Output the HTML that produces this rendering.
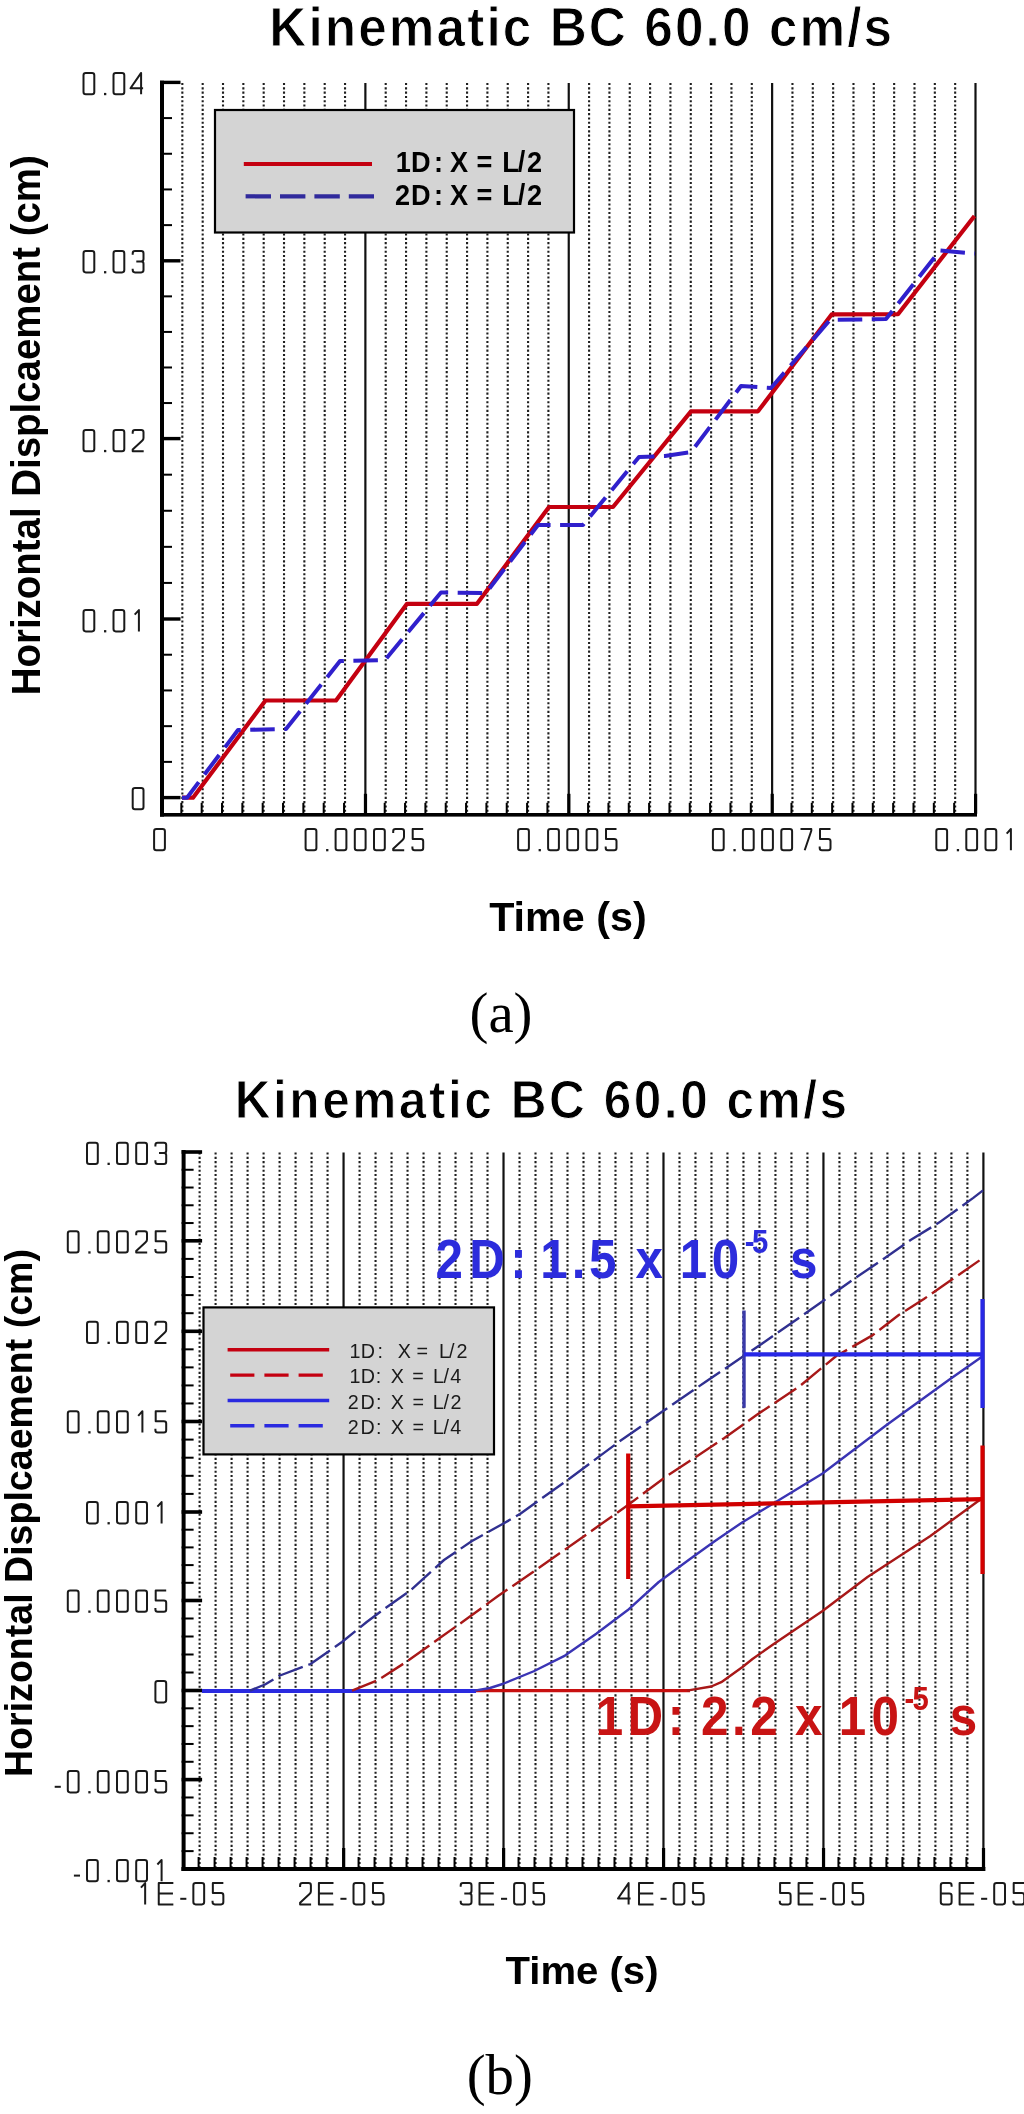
<!DOCTYPE html>
<html><head><meta charset="utf-8"><title>Kinematic BC 60.0 cm/s</title>
<style>
html,body{margin:0;padding:0;background:#fff;}
body{width:1024px;height:2114px;overflow:hidden;font-family:"Liberation Sans",sans-serif;}
svg{display:block;}
text{-webkit-font-smoothing:antialiased;}
text{white-space:pre;}
</style></head>
<body>
<svg width="1024" height="2114" viewBox="0 0 1024 2114" style="will-change:transform">
<defs><path id="g0" d="M 3.3 -22.3 H 9.5 Q 11.8 -22.3 11.8 -20 V -3.3 Q 11.8 -1 9.5 -1 H 3.3 Q 1 -1 1 -3.3 V -20 Q 1 -22.3 3.3 -22.3 Z" fill="none" stroke="#1a1a1a" stroke-width="2.0" stroke-linejoin="round" stroke-linecap="butt"/><path id="g1" d="M 7.2 -1 V -22.3 L 3 -17.7" fill="none" stroke="#1a1a1a" stroke-width="2.0" stroke-linejoin="round" stroke-linecap="butt"/><path id="g2" d="M 1 -18.4 V -20 Q 1 -22.3 3.3 -22.3 H 9.5 Q 11.8 -22.3 11.8 -20 V -14.2 Q 11.8 -12.6 10.4 -11.4 L 1 -2.6 V -1 H 12" fill="none" stroke="#1a1a1a" stroke-width="2.0" stroke-linejoin="round" stroke-linecap="butt"/><path id="g3" d="M 1 -18.6 V -20 Q 1 -22.3 3.3 -22.3 H 9.5 Q 11.8 -22.3 11.8 -20 V -14.3 Q 11.8 -12 9.5 -12 H 4.6 M 9.5 -12 Q 11.8 -12 11.8 -9.7 V -3.3 Q 11.8 -1 9.5 -1 H 3.3 Q 1 -1 1 -3.3 V -4.7" fill="none" stroke="#1a1a1a" stroke-width="2.0" stroke-linejoin="round" stroke-linecap="butt"/><path id="g4" d="M 9.4 -1 V -22.3 L -1.2 -6.9 H 11.4" fill="none" stroke="#1a1a1a" stroke-width="2.0" stroke-linejoin="round" stroke-linecap="butt"/><path id="g5" d="M 11.8 -22.3 H 1.3 V -12.3 H 9.5 Q 11.8 -12.3 11.8 -10 V -3.3 Q 11.8 -1 9.5 -1 H 3.3 Q 1 -1 1 -3.3 V -4.7" fill="none" stroke="#1a1a1a" stroke-width="2.0" stroke-linejoin="round" stroke-linecap="butt"/><path id="g6" d="M 11.8 -18.6 V -20 Q 11.8 -22.3 9.5 -22.3 H 3.3 Q 1 -22.3 1 -20 V -3.3 Q 1 -1 3.3 -1 H 9.5 Q 11.8 -1 11.8 -3.3 V -9.7 Q 11.8 -12 9.5 -12 H 1" fill="none" stroke="#1a1a1a" stroke-width="2.0" stroke-linejoin="round" stroke-linecap="butt"/><path id="g7" d="M 1 -22.3 H 11.8 V -20.5 L 5.2 -1" fill="none" stroke="#1a1a1a" stroke-width="2.0" stroke-linejoin="round" stroke-linecap="butt"/><path id="gE" d="M 15.6 -22.3 H 1 V -1 H 15.6 M 1 -11.8 H 15.2" fill="none" stroke="#1a1a1a" stroke-width="2.0" stroke-linejoin="round" stroke-linecap="butt"/><path id="gm" d="M 1 -6.6 H 7.1" fill="none" stroke="#1a1a1a" stroke-width="2.0" stroke-linejoin="round" stroke-linecap="butt"/><path id="gd" d="M 0.2 -2.3 h 2.3 v 2.3 h -2.3 Z" fill="#1a1a1a" stroke="none"/></defs>
<rect x="0" y="0" width="1024" height="2114" fill="#fff"/>
<line x1="182.34" y1="83" x2="182.34" y2="813.3" stroke="#1e1e1e" stroke-width="2.1" stroke-dasharray="2.1 2.2"/>
<rect x="180.34" y="802.8" width="2" height="10.5" fill="#000"/>
<line x1="202.68" y1="83" x2="202.68" y2="813.3" stroke="#1e1e1e" stroke-width="2.1" stroke-dasharray="2.1 2.2"/>
<rect x="200.68" y="802.8" width="2" height="10.5" fill="#000"/>
<line x1="223.01" y1="83" x2="223.01" y2="813.3" stroke="#1e1e1e" stroke-width="2.1" stroke-dasharray="2.1 2.2"/>
<rect x="221.01" y="802.8" width="2" height="10.5" fill="#000"/>
<line x1="243.35" y1="83" x2="243.35" y2="813.3" stroke="#1e1e1e" stroke-width="2.1" stroke-dasharray="2.1 2.2"/>
<rect x="241.35" y="802.8" width="2" height="10.5" fill="#000"/>
<line x1="263.69" y1="83" x2="263.69" y2="813.3" stroke="#1e1e1e" stroke-width="2.1" stroke-dasharray="2.1 2.2"/>
<rect x="261.69" y="802.8" width="2" height="10.5" fill="#000"/>
<line x1="284.02" y1="83" x2="284.02" y2="813.3" stroke="#1e1e1e" stroke-width="2.1" stroke-dasharray="2.1 2.2"/>
<rect x="282.02" y="802.8" width="2" height="10.5" fill="#000"/>
<line x1="304.36" y1="83" x2="304.36" y2="813.3" stroke="#1e1e1e" stroke-width="2.1" stroke-dasharray="2.1 2.2"/>
<rect x="302.36" y="802.8" width="2" height="10.5" fill="#000"/>
<line x1="324.7" y1="83" x2="324.7" y2="813.3" stroke="#1e1e1e" stroke-width="2.1" stroke-dasharray="2.1 2.2"/>
<rect x="322.7" y="802.8" width="2" height="10.5" fill="#000"/>
<line x1="345.04" y1="83" x2="345.04" y2="813.3" stroke="#1e1e1e" stroke-width="2.1" stroke-dasharray="2.1 2.2"/>
<rect x="343.04" y="802.8" width="2" height="10.5" fill="#000"/>
<line x1="385.71" y1="83" x2="385.71" y2="813.3" stroke="#1e1e1e" stroke-width="2.1" stroke-dasharray="2.1 2.2"/>
<rect x="383.71" y="802.8" width="2" height="10.5" fill="#000"/>
<line x1="406.05" y1="83" x2="406.05" y2="813.3" stroke="#1e1e1e" stroke-width="2.1" stroke-dasharray="2.1 2.2"/>
<rect x="404.05" y="802.8" width="2" height="10.5" fill="#000"/>
<line x1="426.39" y1="83" x2="426.39" y2="813.3" stroke="#1e1e1e" stroke-width="2.1" stroke-dasharray="2.1 2.2"/>
<rect x="424.39" y="802.8" width="2" height="10.5" fill="#000"/>
<line x1="446.73" y1="83" x2="446.73" y2="813.3" stroke="#1e1e1e" stroke-width="2.1" stroke-dasharray="2.1 2.2"/>
<rect x="444.73" y="802.8" width="2" height="10.5" fill="#000"/>
<line x1="467.06" y1="83" x2="467.06" y2="813.3" stroke="#1e1e1e" stroke-width="2.1" stroke-dasharray="2.1 2.2"/>
<rect x="465.06" y="802.8" width="2" height="10.5" fill="#000"/>
<line x1="487.4" y1="83" x2="487.4" y2="813.3" stroke="#1e1e1e" stroke-width="2.1" stroke-dasharray="2.1 2.2"/>
<rect x="485.4" y="802.8" width="2" height="10.5" fill="#000"/>
<line x1="507.74" y1="83" x2="507.74" y2="813.3" stroke="#1e1e1e" stroke-width="2.1" stroke-dasharray="2.1 2.2"/>
<rect x="505.74" y="802.8" width="2" height="10.5" fill="#000"/>
<line x1="528.08" y1="83" x2="528.08" y2="813.3" stroke="#1e1e1e" stroke-width="2.1" stroke-dasharray="2.1 2.2"/>
<rect x="526.08" y="802.8" width="2" height="10.5" fill="#000"/>
<line x1="548.41" y1="83" x2="548.41" y2="813.3" stroke="#1e1e1e" stroke-width="2.1" stroke-dasharray="2.1 2.2"/>
<rect x="546.41" y="802.8" width="2" height="10.5" fill="#000"/>
<line x1="589.09" y1="83" x2="589.09" y2="813.3" stroke="#1e1e1e" stroke-width="2.1" stroke-dasharray="2.1 2.2"/>
<rect x="587.09" y="802.8" width="2" height="10.5" fill="#000"/>
<line x1="609.42" y1="83" x2="609.42" y2="813.3" stroke="#1e1e1e" stroke-width="2.1" stroke-dasharray="2.1 2.2"/>
<rect x="607.42" y="802.8" width="2" height="10.5" fill="#000"/>
<line x1="629.76" y1="83" x2="629.76" y2="813.3" stroke="#1e1e1e" stroke-width="2.1" stroke-dasharray="2.1 2.2"/>
<rect x="627.76" y="802.8" width="2" height="10.5" fill="#000"/>
<line x1="650.1" y1="83" x2="650.1" y2="813.3" stroke="#1e1e1e" stroke-width="2.1" stroke-dasharray="2.1 2.2"/>
<rect x="648.1" y="802.8" width="2" height="10.5" fill="#000"/>
<line x1="670.44" y1="83" x2="670.44" y2="813.3" stroke="#1e1e1e" stroke-width="2.1" stroke-dasharray="2.1 2.2"/>
<rect x="668.44" y="802.8" width="2" height="10.5" fill="#000"/>
<line x1="690.77" y1="83" x2="690.77" y2="813.3" stroke="#1e1e1e" stroke-width="2.1" stroke-dasharray="2.1 2.2"/>
<rect x="688.77" y="802.8" width="2" height="10.5" fill="#000"/>
<line x1="711.11" y1="83" x2="711.11" y2="813.3" stroke="#1e1e1e" stroke-width="2.1" stroke-dasharray="2.1 2.2"/>
<rect x="709.11" y="802.8" width="2" height="10.5" fill="#000"/>
<line x1="731.45" y1="83" x2="731.45" y2="813.3" stroke="#1e1e1e" stroke-width="2.1" stroke-dasharray="2.1 2.2"/>
<rect x="729.45" y="802.8" width="2" height="10.5" fill="#000"/>
<line x1="751.79" y1="83" x2="751.79" y2="813.3" stroke="#1e1e1e" stroke-width="2.1" stroke-dasharray="2.1 2.2"/>
<rect x="749.79" y="802.8" width="2" height="10.5" fill="#000"/>
<line x1="792.46" y1="83" x2="792.46" y2="813.3" stroke="#1e1e1e" stroke-width="2.1" stroke-dasharray="2.1 2.2"/>
<rect x="790.46" y="802.8" width="2" height="10.5" fill="#000"/>
<line x1="812.8" y1="83" x2="812.8" y2="813.3" stroke="#1e1e1e" stroke-width="2.1" stroke-dasharray="2.1 2.2"/>
<rect x="810.8" y="802.8" width="2" height="10.5" fill="#000"/>
<line x1="833.14" y1="83" x2="833.14" y2="813.3" stroke="#1e1e1e" stroke-width="2.1" stroke-dasharray="2.1 2.2"/>
<rect x="831.14" y="802.8" width="2" height="10.5" fill="#000"/>
<line x1="853.48" y1="83" x2="853.48" y2="813.3" stroke="#1e1e1e" stroke-width="2.1" stroke-dasharray="2.1 2.2"/>
<rect x="851.48" y="802.8" width="2" height="10.5" fill="#000"/>
<line x1="873.81" y1="83" x2="873.81" y2="813.3" stroke="#1e1e1e" stroke-width="2.1" stroke-dasharray="2.1 2.2"/>
<rect x="871.81" y="802.8" width="2" height="10.5" fill="#000"/>
<line x1="894.15" y1="83" x2="894.15" y2="813.3" stroke="#1e1e1e" stroke-width="2.1" stroke-dasharray="2.1 2.2"/>
<rect x="892.15" y="802.8" width="2" height="10.5" fill="#000"/>
<line x1="914.49" y1="83" x2="914.49" y2="813.3" stroke="#1e1e1e" stroke-width="2.1" stroke-dasharray="2.1 2.2"/>
<rect x="912.49" y="802.8" width="2" height="10.5" fill="#000"/>
<line x1="934.83" y1="83" x2="934.83" y2="813.3" stroke="#1e1e1e" stroke-width="2.1" stroke-dasharray="2.1 2.2"/>
<rect x="932.83" y="802.8" width="2" height="10.5" fill="#000"/>
<line x1="955.16" y1="83" x2="955.16" y2="813.3" stroke="#1e1e1e" stroke-width="2.1" stroke-dasharray="2.1 2.2"/>
<rect x="953.16" y="802.8" width="2" height="10.5" fill="#000"/>
<line x1="365.38" y1="83" x2="365.38" y2="814.8" stroke="#111" stroke-width="2.2" />
<rect x="363.88" y="793.8" width="3.2" height="20" fill="#000"/>
<line x1="568.75" y1="83" x2="568.75" y2="814.8" stroke="#111" stroke-width="2.2" />
<rect x="567.25" y="793.8" width="3.2" height="20" fill="#000"/>
<line x1="772.12" y1="83" x2="772.12" y2="814.8" stroke="#111" stroke-width="2.2" />
<rect x="770.62" y="793.8" width="3.2" height="20" fill="#000"/>
<line x1="975.5" y1="83" x2="975.5" y2="814.8" stroke="#111" stroke-width="2.2" />
<rect x="974" y="793.8" width="3.2" height="20" fill="#000"/>
<rect x="160" y="795.9" width="20.5" height="3.4" fill="#000"/>
<rect x="160" y="617.3" width="20.5" height="3.4" fill="#000"/>
<rect x="160" y="436.9" width="20.5" height="3.4" fill="#000"/>
<rect x="160" y="259.1" width="20.5" height="3.4" fill="#000"/>
<rect x="160" y="80.7" width="20.5" height="3.4" fill="#000"/>
<rect x="160" y="760.88" width="12" height="2" fill="#000"/>
<rect x="160" y="725.16" width="12" height="2" fill="#000"/>
<rect x="160" y="689.44" width="12" height="2" fill="#000"/>
<rect x="160" y="653.72" width="12" height="2" fill="#000"/>
<rect x="160" y="581.92" width="12" height="2" fill="#000"/>
<rect x="160" y="545.84" width="12" height="2" fill="#000"/>
<rect x="160" y="509.76" width="12" height="2" fill="#000"/>
<rect x="160" y="473.68" width="12" height="2" fill="#000"/>
<rect x="160" y="402.04" width="12" height="2" fill="#000"/>
<rect x="160" y="366.48" width="12" height="2" fill="#000"/>
<rect x="160" y="330.92" width="12" height="2" fill="#000"/>
<rect x="160" y="295.36" width="12" height="2" fill="#000"/>
<rect x="160" y="224.12" width="12" height="2" fill="#000"/>
<rect x="160" y="188.44" width="12" height="2" fill="#000"/>
<rect x="160" y="152.76" width="12" height="2" fill="#000"/>
<rect x="160" y="117.08" width="12" height="2" fill="#000"/>
<rect x="160" y="80.7" width="4" height="735.9" fill="#000"/>
<rect x="160" y="813" width="817" height="3.6" fill="#000"/>
<use href="#g0" x="131.7" y="810.3"/>
<use href="#g0" x="82.5" y="632.4"/><use href="#gd" x="103.8" y="632.4"/><use href="#g0" x="112.5" y="632.4"/><use href="#g1" x="131.7" y="632.4"/>
<use href="#g0" x="82.5" y="452.2"/><use href="#gd" x="103.8" y="452.2"/><use href="#g0" x="112.5" y="452.2"/><use href="#g2" x="131.7" y="452.2"/>
<use href="#g0" x="82.5" y="273.4"/><use href="#gd" x="103.8" y="273.4"/><use href="#g0" x="112.5" y="273.4"/><use href="#g3" x="131.7" y="273.4"/>
<use href="#g0" x="82.5" y="95.2"/><use href="#gd" x="103.8" y="95.2"/><use href="#g0" x="112.5" y="95.2"/><use href="#g4" x="131.7" y="95.2"/>
<use href="#g0" x="153.1" y="851.3"/>
<use href="#g0" x="304.6" y="851.3"/><use href="#gd" x="325.9" y="851.3"/><use href="#g0" x="334.6" y="851.3"/><use href="#g0" x="353.8" y="851.3"/><use href="#g0" x="373" y="851.3"/><use href="#g2" x="392.2" y="851.3"/><use href="#g5" x="411.4" y="851.3"/>
<use href="#g0" x="517.1" y="851.3"/><use href="#gd" x="538.4" y="851.3"/><use href="#g0" x="547.1" y="851.3"/><use href="#g0" x="566.3" y="851.3"/><use href="#g0" x="585.5" y="851.3"/><use href="#g5" x="604.7" y="851.3"/>
<use href="#g0" x="711.9" y="851.3"/><use href="#gd" x="733.2" y="851.3"/><use href="#g0" x="741.9" y="851.3"/><use href="#g0" x="761.1" y="851.3"/><use href="#g0" x="780.3" y="851.3"/><use href="#g7" x="799.5" y="851.3"/><use href="#g5" x="818.7" y="851.3"/>
<use href="#g0" x="935.3" y="851.3"/><use href="#gd" x="956.6" y="851.3"/><use href="#g0" x="965.3" y="851.3"/><use href="#g0" x="984.5" y="851.3"/><use href="#g1" x="1003.7" y="851.3"/>
<text transform="translate(269.31,45.8) scale(0.92,1)" font-family="Liberation Sans" font-weight="bold" font-size="55.8" letter-spacing="2.26" stroke="#fff" stroke-width="1.0">Kinematic BC 60.0 cm/s</text>
<text transform="translate(40,425.2) rotate(-90)" x="0" y="0" font-family="Liberation Sans" font-size="40.4" font-weight="bold" text-anchor="middle" textLength="540" lengthAdjust="spacingAndGlyphs">Horizontal Displcaement (cm)</text>
<text x="567.9" y="931.3" font-family="Liberation Sans" font-size="39.8" font-weight="bold" text-anchor="middle" fill="#000" textLength="157.5" lengthAdjust="spacingAndGlyphs">Time (s)</text>
<text x="501" y="1032.3" font-family="Liberation Serif" font-size="56.8" font-weight="normal" text-anchor="middle" fill="#000" >(a)</text>
<polyline points="182,797.7 193,797.7 265.5,700.5 336,700.5 407,603.8 477,603.8 549,507 613,507 691,411.3 758,411.3 831.6,314.4 898,314.2 974.5,216" fill="none" stroke="#c40010" stroke-width="4.2" stroke-linejoin="round" />
<polyline points="182,797.7 187,797.7 238,730 286,729 340,661 385,660 441,592.5 486,593 538,525 583,525 639,457 665,456 691,452 741,386 771,388 830,320 886,319 940,250.5 975,253.6" fill="none" stroke="#3020cc" stroke-width="4" stroke-linejoin="round" stroke-dasharray="24.5 9.5"/>
<rect x="215" y="110" width="359" height="122.5" fill="#d4d4d4" stroke="#000" stroke-width="2.2"/>
<line x1="243.8" y1="164" x2="372" y2="164" stroke="#c40010" stroke-width="4.2" />
<line x1="245.6" y1="196.3" x2="374" y2="196.3" stroke="#302a9c" stroke-width="4.2" stroke-dasharray="25.4 9"/>
<line x1="199.6" y1="1152.5" x2="199.6" y2="1867.5" stroke="#1e1e1e" stroke-width="2.1" stroke-dasharray="2.1 2.2"/>
<rect x="197.6" y="1857" width="2" height="10.5" fill="#000"/>
<line x1="215.59" y1="1152.5" x2="215.59" y2="1867.5" stroke="#1e1e1e" stroke-width="2.1" stroke-dasharray="2.1 2.2"/>
<rect x="213.59" y="1857" width="2" height="10.5" fill="#000"/>
<line x1="231.59" y1="1152.5" x2="231.59" y2="1867.5" stroke="#1e1e1e" stroke-width="2.1" stroke-dasharray="2.1 2.2"/>
<rect x="229.59" y="1857" width="2" height="10.5" fill="#000"/>
<line x1="247.58" y1="1152.5" x2="247.58" y2="1867.5" stroke="#1e1e1e" stroke-width="2.1" stroke-dasharray="2.1 2.2"/>
<rect x="245.58" y="1857" width="2" height="10.5" fill="#000"/>
<line x1="263.58" y1="1152.5" x2="263.58" y2="1867.5" stroke="#1e1e1e" stroke-width="2.1" stroke-dasharray="2.1 2.2"/>
<rect x="261.58" y="1857" width="2" height="10.5" fill="#000"/>
<line x1="279.58" y1="1152.5" x2="279.58" y2="1867.5" stroke="#1e1e1e" stroke-width="2.1" stroke-dasharray="2.1 2.2"/>
<rect x="277.58" y="1857" width="2" height="10.5" fill="#000"/>
<line x1="295.57" y1="1152.5" x2="295.57" y2="1867.5" stroke="#1e1e1e" stroke-width="2.1" stroke-dasharray="2.1 2.2"/>
<rect x="293.57" y="1857" width="2" height="10.5" fill="#000"/>
<line x1="311.57" y1="1152.5" x2="311.57" y2="1867.5" stroke="#1e1e1e" stroke-width="2.1" stroke-dasharray="2.1 2.2"/>
<rect x="309.57" y="1857" width="2" height="10.5" fill="#000"/>
<line x1="327.56" y1="1152.5" x2="327.56" y2="1867.5" stroke="#1e1e1e" stroke-width="2.1" stroke-dasharray="2.1 2.2"/>
<rect x="325.56" y="1857" width="2" height="10.5" fill="#000"/>
<line x1="359.56" y1="1152.5" x2="359.56" y2="1867.5" stroke="#1e1e1e" stroke-width="2.1" stroke-dasharray="2.1 2.2"/>
<rect x="357.56" y="1857" width="2" height="10.5" fill="#000"/>
<line x1="375.55" y1="1152.5" x2="375.55" y2="1867.5" stroke="#1e1e1e" stroke-width="2.1" stroke-dasharray="2.1 2.2"/>
<rect x="373.55" y="1857" width="2" height="10.5" fill="#000"/>
<line x1="391.55" y1="1152.5" x2="391.55" y2="1867.5" stroke="#1e1e1e" stroke-width="2.1" stroke-dasharray="2.1 2.2"/>
<rect x="389.55" y="1857" width="2" height="10.5" fill="#000"/>
<line x1="407.54" y1="1152.5" x2="407.54" y2="1867.5" stroke="#1e1e1e" stroke-width="2.1" stroke-dasharray="2.1 2.2"/>
<rect x="405.54" y="1857" width="2" height="10.5" fill="#000"/>
<line x1="423.54" y1="1152.5" x2="423.54" y2="1867.5" stroke="#1e1e1e" stroke-width="2.1" stroke-dasharray="2.1 2.2"/>
<rect x="421.54" y="1857" width="2" height="10.5" fill="#000"/>
<line x1="439.54" y1="1152.5" x2="439.54" y2="1867.5" stroke="#1e1e1e" stroke-width="2.1" stroke-dasharray="2.1 2.2"/>
<rect x="437.54" y="1857" width="2" height="10.5" fill="#000"/>
<line x1="455.53" y1="1152.5" x2="455.53" y2="1867.5" stroke="#1e1e1e" stroke-width="2.1" stroke-dasharray="2.1 2.2"/>
<rect x="453.53" y="1857" width="2" height="10.5" fill="#000"/>
<line x1="471.53" y1="1152.5" x2="471.53" y2="1867.5" stroke="#1e1e1e" stroke-width="2.1" stroke-dasharray="2.1 2.2"/>
<rect x="469.53" y="1857" width="2" height="10.5" fill="#000"/>
<line x1="487.52" y1="1152.5" x2="487.52" y2="1867.5" stroke="#1e1e1e" stroke-width="2.1" stroke-dasharray="2.1 2.2"/>
<rect x="485.52" y="1857" width="2" height="10.5" fill="#000"/>
<line x1="519.52" y1="1152.5" x2="519.52" y2="1867.5" stroke="#1e1e1e" stroke-width="2.1" stroke-dasharray="2.1 2.2"/>
<rect x="517.52" y="1857" width="2" height="10.5" fill="#000"/>
<line x1="535.51" y1="1152.5" x2="535.51" y2="1867.5" stroke="#1e1e1e" stroke-width="2.1" stroke-dasharray="2.1 2.2"/>
<rect x="533.51" y="1857" width="2" height="10.5" fill="#000"/>
<line x1="551.51" y1="1152.5" x2="551.51" y2="1867.5" stroke="#1e1e1e" stroke-width="2.1" stroke-dasharray="2.1 2.2"/>
<rect x="549.51" y="1857" width="2" height="10.5" fill="#000"/>
<line x1="567.5" y1="1152.5" x2="567.5" y2="1867.5" stroke="#1e1e1e" stroke-width="2.1" stroke-dasharray="2.1 2.2"/>
<rect x="565.5" y="1857" width="2" height="10.5" fill="#000"/>
<line x1="583.5" y1="1152.5" x2="583.5" y2="1867.5" stroke="#1e1e1e" stroke-width="2.1" stroke-dasharray="2.1 2.2"/>
<rect x="581.5" y="1857" width="2" height="10.5" fill="#000"/>
<line x1="599.5" y1="1152.5" x2="599.5" y2="1867.5" stroke="#1e1e1e" stroke-width="2.1" stroke-dasharray="2.1 2.2"/>
<rect x="597.5" y="1857" width="2" height="10.5" fill="#000"/>
<line x1="615.49" y1="1152.5" x2="615.49" y2="1867.5" stroke="#1e1e1e" stroke-width="2.1" stroke-dasharray="2.1 2.2"/>
<rect x="613.49" y="1857" width="2" height="10.5" fill="#000"/>
<line x1="631.49" y1="1152.5" x2="631.49" y2="1867.5" stroke="#1e1e1e" stroke-width="2.1" stroke-dasharray="2.1 2.2"/>
<rect x="629.49" y="1857" width="2" height="10.5" fill="#000"/>
<line x1="647.48" y1="1152.5" x2="647.48" y2="1867.5" stroke="#1e1e1e" stroke-width="2.1" stroke-dasharray="2.1 2.2"/>
<rect x="645.48" y="1857" width="2" height="10.5" fill="#000"/>
<line x1="679.48" y1="1152.5" x2="679.48" y2="1867.5" stroke="#1e1e1e" stroke-width="2.1" stroke-dasharray="2.1 2.2"/>
<rect x="677.48" y="1857" width="2" height="10.5" fill="#000"/>
<line x1="695.47" y1="1152.5" x2="695.47" y2="1867.5" stroke="#1e1e1e" stroke-width="2.1" stroke-dasharray="2.1 2.2"/>
<rect x="693.47" y="1857" width="2" height="10.5" fill="#000"/>
<line x1="711.47" y1="1152.5" x2="711.47" y2="1867.5" stroke="#1e1e1e" stroke-width="2.1" stroke-dasharray="2.1 2.2"/>
<rect x="709.47" y="1857" width="2" height="10.5" fill="#000"/>
<line x1="727.46" y1="1152.5" x2="727.46" y2="1867.5" stroke="#1e1e1e" stroke-width="2.1" stroke-dasharray="2.1 2.2"/>
<rect x="725.46" y="1857" width="2" height="10.5" fill="#000"/>
<line x1="743.46" y1="1152.5" x2="743.46" y2="1867.5" stroke="#1e1e1e" stroke-width="2.1" stroke-dasharray="2.1 2.2"/>
<rect x="741.46" y="1857" width="2" height="10.5" fill="#000"/>
<line x1="759.46" y1="1152.5" x2="759.46" y2="1867.5" stroke="#1e1e1e" stroke-width="2.1" stroke-dasharray="2.1 2.2"/>
<rect x="757.46" y="1857" width="2" height="10.5" fill="#000"/>
<line x1="775.45" y1="1152.5" x2="775.45" y2="1867.5" stroke="#1e1e1e" stroke-width="2.1" stroke-dasharray="2.1 2.2"/>
<rect x="773.45" y="1857" width="2" height="10.5" fill="#000"/>
<line x1="791.45" y1="1152.5" x2="791.45" y2="1867.5" stroke="#1e1e1e" stroke-width="2.1" stroke-dasharray="2.1 2.2"/>
<rect x="789.45" y="1857" width="2" height="10.5" fill="#000"/>
<line x1="807.44" y1="1152.5" x2="807.44" y2="1867.5" stroke="#1e1e1e" stroke-width="2.1" stroke-dasharray="2.1 2.2"/>
<rect x="805.44" y="1857" width="2" height="10.5" fill="#000"/>
<line x1="839.44" y1="1152.5" x2="839.44" y2="1867.5" stroke="#1e1e1e" stroke-width="2.1" stroke-dasharray="2.1 2.2"/>
<rect x="837.44" y="1857" width="2" height="10.5" fill="#000"/>
<line x1="855.43" y1="1152.5" x2="855.43" y2="1867.5" stroke="#1e1e1e" stroke-width="2.1" stroke-dasharray="2.1 2.2"/>
<rect x="853.43" y="1857" width="2" height="10.5" fill="#000"/>
<line x1="871.43" y1="1152.5" x2="871.43" y2="1867.5" stroke="#1e1e1e" stroke-width="2.1" stroke-dasharray="2.1 2.2"/>
<rect x="869.43" y="1857" width="2" height="10.5" fill="#000"/>
<line x1="887.42" y1="1152.5" x2="887.42" y2="1867.5" stroke="#1e1e1e" stroke-width="2.1" stroke-dasharray="2.1 2.2"/>
<rect x="885.42" y="1857" width="2" height="10.5" fill="#000"/>
<line x1="903.42" y1="1152.5" x2="903.42" y2="1867.5" stroke="#1e1e1e" stroke-width="2.1" stroke-dasharray="2.1 2.2"/>
<rect x="901.42" y="1857" width="2" height="10.5" fill="#000"/>
<line x1="919.42" y1="1152.5" x2="919.42" y2="1867.5" stroke="#1e1e1e" stroke-width="2.1" stroke-dasharray="2.1 2.2"/>
<rect x="917.42" y="1857" width="2" height="10.5" fill="#000"/>
<line x1="935.41" y1="1152.5" x2="935.41" y2="1867.5" stroke="#1e1e1e" stroke-width="2.1" stroke-dasharray="2.1 2.2"/>
<rect x="933.41" y="1857" width="2" height="10.5" fill="#000"/>
<line x1="951.41" y1="1152.5" x2="951.41" y2="1867.5" stroke="#1e1e1e" stroke-width="2.1" stroke-dasharray="2.1 2.2"/>
<rect x="949.41" y="1857" width="2" height="10.5" fill="#000"/>
<line x1="967.4" y1="1152.5" x2="967.4" y2="1867.5" stroke="#1e1e1e" stroke-width="2.1" stroke-dasharray="2.1 2.2"/>
<rect x="965.4" y="1857" width="2" height="10.5" fill="#000"/>
<line x1="343.56" y1="1152.5" x2="343.56" y2="1869" stroke="#111" stroke-width="2.2" />
<rect x="342.06" y="1848" width="3.2" height="20" fill="#000"/>
<line x1="503.52" y1="1152.5" x2="503.52" y2="1869" stroke="#111" stroke-width="2.2" />
<rect x="502.02" y="1848" width="3.2" height="20" fill="#000"/>
<line x1="663.48" y1="1152.5" x2="663.48" y2="1869" stroke="#111" stroke-width="2.2" />
<rect x="661.98" y="1848" width="3.2" height="20" fill="#000"/>
<line x1="823.44" y1="1152.5" x2="823.44" y2="1869" stroke="#111" stroke-width="2.2" />
<rect x="821.94" y="1848" width="3.2" height="20" fill="#000"/>
<line x1="983.4" y1="1152.5" x2="983.4" y2="1869" stroke="#111" stroke-width="2.2" />
<rect x="981.9" y="1848" width="3.2" height="20" fill="#000"/>
<rect x="181.6" y="1150.2" width="20.5" height="3.6" fill="#000"/>
<rect x="181.6" y="1239" width="20.5" height="3.6" fill="#000"/>
<rect x="181.6" y="1329.5" width="20.5" height="3.6" fill="#000"/>
<rect x="181.6" y="1419.7" width="20.5" height="3.6" fill="#000"/>
<rect x="181.6" y="1510.2" width="20.5" height="3.6" fill="#000"/>
<rect x="181.6" y="1598.7" width="20.5" height="3.6" fill="#000"/>
<rect x="181.6" y="1688.7" width="20.5" height="3.6" fill="#000"/>
<rect x="181.6" y="1777.8" width="20.5" height="3.6" fill="#000"/>
<rect x="181.6" y="1867.2" width="20.5" height="3.6" fill="#000"/>
<rect x="181.6" y="1168.76" width="12" height="2" fill="#000"/>
<rect x="181.6" y="1186.52" width="12" height="2" fill="#000"/>
<rect x="181.6" y="1204.28" width="12" height="2" fill="#000"/>
<rect x="181.6" y="1222.04" width="12" height="2" fill="#000"/>
<rect x="181.6" y="1257.9" width="12" height="2" fill="#000"/>
<rect x="181.6" y="1276" width="12" height="2" fill="#000"/>
<rect x="181.6" y="1294.1" width="12" height="2" fill="#000"/>
<rect x="181.6" y="1312.2" width="12" height="2" fill="#000"/>
<rect x="181.6" y="1348.34" width="12" height="2" fill="#000"/>
<rect x="181.6" y="1366.38" width="12" height="2" fill="#000"/>
<rect x="181.6" y="1384.42" width="12" height="2" fill="#000"/>
<rect x="181.6" y="1402.46" width="12" height="2" fill="#000"/>
<rect x="181.6" y="1438.6" width="12" height="2" fill="#000"/>
<rect x="181.6" y="1456.7" width="12" height="2" fill="#000"/>
<rect x="181.6" y="1474.8" width="12" height="2" fill="#000"/>
<rect x="181.6" y="1492.9" width="12" height="2" fill="#000"/>
<rect x="181.6" y="1528.7" width="12" height="2" fill="#000"/>
<rect x="181.6" y="1546.4" width="12" height="2" fill="#000"/>
<rect x="181.6" y="1564.1" width="12" height="2" fill="#000"/>
<rect x="181.6" y="1581.8" width="12" height="2" fill="#000"/>
<rect x="181.6" y="1617.5" width="12" height="2" fill="#000"/>
<rect x="181.6" y="1635.5" width="12" height="2" fill="#000"/>
<rect x="181.6" y="1653.5" width="12" height="2" fill="#000"/>
<rect x="181.6" y="1671.5" width="12" height="2" fill="#000"/>
<rect x="181.6" y="1707.32" width="12" height="2" fill="#000"/>
<rect x="181.6" y="1725.14" width="12" height="2" fill="#000"/>
<rect x="181.6" y="1742.96" width="12" height="2" fill="#000"/>
<rect x="181.6" y="1760.78" width="12" height="2" fill="#000"/>
<rect x="181.6" y="1796.48" width="12" height="2" fill="#000"/>
<rect x="181.6" y="1814.36" width="12" height="2" fill="#000"/>
<rect x="181.6" y="1832.24" width="12" height="2" fill="#000"/>
<rect x="181.6" y="1850.12" width="12" height="2" fill="#000"/>
<rect x="181.6" y="1150" width="4" height="721" fill="#000"/>
<rect x="181.6" y="1867" width="803.8" height="4" fill="#000"/>
<use href="#g0" x="86" y="1165"/><use href="#gd" x="107.3" y="1165"/><use href="#g0" x="116" y="1165"/><use href="#g0" x="135.2" y="1165"/><use href="#g3" x="154.4" y="1165"/>
<use href="#g0" x="66.8" y="1253.6"/><use href="#gd" x="88.1" y="1253.6"/><use href="#g0" x="96.8" y="1253.6"/><use href="#g0" x="116" y="1253.6"/><use href="#g2" x="135.2" y="1253.6"/><use href="#g5" x="154.4" y="1253.6"/>
<use href="#g0" x="86" y="1344"/><use href="#gd" x="107.3" y="1344"/><use href="#g0" x="116" y="1344"/><use href="#g0" x="135.2" y="1344"/><use href="#g2" x="154.4" y="1344"/>
<use href="#g0" x="66.8" y="1433.5"/><use href="#gd" x="88.1" y="1433.5"/><use href="#g0" x="96.8" y="1433.5"/><use href="#g0" x="116" y="1433.5"/><use href="#g1" x="135.2" y="1433.5"/><use href="#g5" x="154.4" y="1433.5"/>
<use href="#g0" x="86" y="1524.4"/><use href="#gd" x="107.3" y="1524.4"/><use href="#g0" x="116" y="1524.4"/><use href="#g0" x="135.2" y="1524.4"/><use href="#g1" x="154.4" y="1524.4"/>
<use href="#g0" x="66.8" y="1612.8"/><use href="#gd" x="88.1" y="1612.8"/><use href="#g0" x="96.8" y="1612.8"/><use href="#g0" x="116" y="1612.8"/><use href="#g0" x="135.2" y="1612.8"/><use href="#g5" x="154.4" y="1612.8"/>
<use href="#g0" x="154.4" y="1703.4"/>
<use href="#gm" x="53.7" y="1793.4"/><use href="#g0" x="66.8" y="1793.4"/><use href="#gd" x="88.1" y="1793.4"/><use href="#g0" x="96.8" y="1793.4"/><use href="#g0" x="116" y="1793.4"/><use href="#g0" x="135.2" y="1793.4"/><use href="#g5" x="154.4" y="1793.4"/>
<use href="#gm" x="72.9" y="1882.2"/><use href="#g0" x="86" y="1882.2"/><use href="#gd" x="107.3" y="1882.2"/><use href="#g0" x="116" y="1882.2"/><use href="#g0" x="135.2" y="1882.2"/><use href="#g1" x="154.4" y="1882.2"/>
<use href="#g1" x="137.95" y="1905.4"/><use href="#gE" x="157.75" y="1905.4"/><use href="#gm" x="179.25" y="1905.4"/><use href="#g0" x="192.35" y="1905.4"/><use href="#g5" x="211.55" y="1905.4"/>
<use href="#g2" x="299.1" y="1905.4"/><use href="#gE" x="317.9" y="1905.4"/><use href="#gm" x="339.4" y="1905.4"/><use href="#g0" x="352.5" y="1905.4"/><use href="#g5" x="371.7" y="1905.4"/>
<use href="#g3" x="459.7" y="1905.4"/><use href="#gE" x="478.5" y="1905.4"/><use href="#gm" x="500" y="1905.4"/><use href="#g0" x="513.1" y="1905.4"/><use href="#g5" x="532.3" y="1905.4"/>
<use href="#g4" x="619.2" y="1905.4"/><use href="#gE" x="638" y="1905.4"/><use href="#gm" x="659.5" y="1905.4"/><use href="#g0" x="672.6" y="1905.4"/><use href="#g5" x="691.8" y="1905.4"/>
<use href="#g5" x="778.8" y="1905.4"/><use href="#gE" x="797.6" y="1905.4"/><use href="#gm" x="819.1" y="1905.4"/><use href="#g0" x="832.2" y="1905.4"/><use href="#g5" x="851.4" y="1905.4"/>
<use href="#g6" x="939.8" y="1905.4"/><use href="#gE" x="958.6" y="1905.4"/><use href="#gm" x="980.1" y="1905.4"/><use href="#g0" x="993.2" y="1905.4"/><use href="#g5" x="1012.4" y="1905.4"/>
<text transform="translate(234.73,1117.9) scale(0.92,1)" font-family="Liberation Sans" font-weight="bold" font-size="53.9" letter-spacing="2.75" stroke="#fff" stroke-width="1.0">Kinematic BC 60.0 cm/s</text>
<text transform="translate(31.6,1513) rotate(-90)" x="0" y="0" font-family="Liberation Sans" font-size="39.7" font-weight="bold" text-anchor="middle" textLength="528" lengthAdjust="spacingAndGlyphs">Horizontal Displcaement (cm)</text>
<text x="582" y="1983.5" font-family="Liberation Sans" font-size="38.4" font-weight="bold" text-anchor="middle" fill="#000" textLength="153" lengthAdjust="spacingAndGlyphs">Time (s)</text>
<text x="499.8" y="2093.6" font-family="Liberation Serif" font-size="56.8" font-weight="normal" text-anchor="middle" fill="#000" >(b)</text>
<line x1="202" y1="1691" x2="476" y2="1691" stroke="#2a2ae0" stroke-width="4.2" />
<line x1="476" y1="1690.6" x2="690" y2="1690.6" stroke="#c81010" stroke-width="3.2" />
<polyline points="250,1690.6 265,1684.5 280,1675.5 310.5,1664 342,1642 366.7,1622 385.5,1608 411,1590 444,1560 472,1541 502.6,1524 520,1514 571.7,1477 618.6,1442 663.1,1411 705.3,1382 761.5,1344 823,1301 853,1279.6 883.1,1259.2 911,1239.8 939,1222.6 973.3,1197.9 983,1190.4" fill="none" stroke="#303090" stroke-width="2.4" stroke-linejoin="round" stroke-dasharray="26 6"/>
<polyline points="352,1690.6 378,1680 406.6,1661.7 439.4,1638.3 467.5,1618.3 498,1596 520,1581 574.4,1543 628,1505 665.5,1477 724,1438.3 756.9,1414.8 799,1386.7 836.25,1356 872.4,1335.4 898.75,1315 923.9,1299 951.9,1279.6 979.8,1260.2 983,1258" fill="none" stroke="#a81818" stroke-width="2.4" stroke-linejoin="round" stroke-dasharray="26 6"/>
<polyline points="474.5,1690.6 490,1688 502.6,1684 533.75,1671.25 565,1655.6 596.25,1633.75 627.5,1610.3 658.75,1582 690,1559 715,1541 742.5,1522.2 822.2,1473.75 886.25,1425.3 948.75,1380 983,1356" fill="none" stroke="#3a34b4" stroke-width="2.4" stroke-linejoin="round" />
<polyline points="687,1690.6 711.25,1686.5 721.25,1682.2 742.5,1667 752.5,1659 773.75,1644 822.2,1611.25 867.5,1577 930,1536.25 976.9,1502 983,1498" fill="none" stroke="#a81818" stroke-width="2.4" stroke-linejoin="round" />
<line x1="744" y1="1310.5" x2="744" y2="1407.8" stroke="#3a3aa8" stroke-width="3.4" />
<line x1="744" y1="1354.4" x2="983" y2="1354.4" stroke="#2828e6" stroke-width="4.2" />
<line x1="982.5" y1="1299" x2="982.5" y2="1408" stroke="#2828e6" stroke-width="4.2" />
<line x1="628.2" y1="1453.5" x2="628.2" y2="1579" stroke="#d40000" stroke-width="4.2" />
<line x1="628.2" y1="1506.3" x2="983" y2="1499.2" stroke="#d00000" stroke-width="4.2" />
<line x1="982.5" y1="1445.6" x2="982.5" y2="1574" stroke="#d40000" stroke-width="4.2" />
<rect x="203.5" y="1307.4" width="290.5" height="147" fill="#d4d4d4" stroke="#000" stroke-width="2.2"/>
<line x1="227.6" y1="1349.7" x2="329.2" y2="1349.7" stroke="#c40010" stroke-width="3.4" />
<line x1="230.2" y1="1375.1" x2="322.8" y2="1375.1" stroke="#c40010" stroke-width="3.4" stroke-dasharray="24.2 10"/>
<line x1="227.6" y1="1400.5" x2="329.2" y2="1400.5" stroke="#2a2ae0" stroke-width="3.4" />
<line x1="230.2" y1="1425.7" x2="322.8" y2="1425.7" stroke="#2a2ae0" stroke-width="3.4" stroke-dasharray="24.2 10"/>
<text transform="translate(395.82,172.4) scale(0.92,1)" font-family="Liberation Sans" font-weight="bold" font-size="29.5" fill="#000">1</text>
<text transform="translate(411.11,172.4) scale(0.92,1)" font-family="Liberation Sans" font-weight="bold" font-size="29.5" fill="#000">D</text>
<text transform="translate(433.93,172.4) scale(0.92,1)" font-family="Liberation Sans" font-weight="bold" font-size="29.5" fill="#000">:</text>
<text transform="translate(450.1,172.4) scale(0.92,1)" font-family="Liberation Sans" font-weight="bold" font-size="29.5" fill="#000">X</text>
<text transform="translate(476.58,172.4) scale(0.92,1)" font-family="Liberation Sans" font-weight="bold" font-size="29.5" fill="#000">=</text>
<text transform="translate(502.22,172.4) scale(0.92,1)" font-family="Liberation Sans" font-weight="bold" font-size="29.5" fill="#000">L</text>
<text transform="translate(517.83,172.4) scale(0.92,1)" font-family="Liberation Sans" font-weight="bold" font-size="29.5" fill="#000">/</text>
<text transform="translate(527.07,172.4) scale(0.92,1)" font-family="Liberation Sans" font-weight="bold" font-size="29.5" fill="#000">2</text>
<text transform="translate(395.02,204.5) scale(0.92,1)" font-family="Liberation Sans" font-weight="bold" font-size="29.5" fill="#000">2</text>
<text transform="translate(411.11,204.5) scale(0.92,1)" font-family="Liberation Sans" font-weight="bold" font-size="29.5" fill="#000">D</text>
<text transform="translate(433.93,204.5) scale(0.92,1)" font-family="Liberation Sans" font-weight="bold" font-size="29.5" fill="#000">:</text>
<text transform="translate(450.1,204.5) scale(0.92,1)" font-family="Liberation Sans" font-weight="bold" font-size="29.5" fill="#000">X</text>
<text transform="translate(476.58,204.5) scale(0.92,1)" font-family="Liberation Sans" font-weight="bold" font-size="29.5" fill="#000">=</text>
<text transform="translate(502.22,204.5) scale(0.92,1)" font-family="Liberation Sans" font-weight="bold" font-size="29.5" fill="#000">L</text>
<text transform="translate(517.83,204.5) scale(0.92,1)" font-family="Liberation Sans" font-weight="bold" font-size="29.5" fill="#000">/</text>
<text transform="translate(527.07,204.5) scale(0.92,1)" font-family="Liberation Sans" font-weight="bold" font-size="29.5" fill="#000">2</text>
<text transform="translate(349.47,1358.4) scale(0.95,1)" font-family="Liberation Sans" font-weight="normal" font-size="20.8" fill="#1a1a1a">1</text>
<text transform="translate(360.87,1358.4) scale(0.95,1)" font-family="Liberation Sans" font-weight="normal" font-size="20.8" fill="#1a1a1a">D</text>
<text transform="translate(377.6,1358.4) scale(0.95,1)" font-family="Liberation Sans" font-weight="normal" font-size="20.8" fill="#1a1a1a">:</text>
<text transform="translate(397.65,1358.4) scale(0.95,1)" font-family="Liberation Sans" font-weight="normal" font-size="20.8" fill="#1a1a1a">X</text>
<text transform="translate(416.59,1358.4) scale(0.95,1)" font-family="Liberation Sans" font-weight="normal" font-size="20.8" fill="#1a1a1a">=</text>
<text transform="translate(438.97,1358.4) scale(0.95,1)" font-family="Liberation Sans" font-weight="normal" font-size="20.8" fill="#1a1a1a">L</text>
<text transform="translate(449,1358.4) scale(0.95,1)" font-family="Liberation Sans" font-weight="normal" font-size="20.8" fill="#1a1a1a">/</text>
<text transform="translate(456.51,1358.4) scale(0.95,1)" font-family="Liberation Sans" font-weight="normal" font-size="20.8" fill="#1a1a1a">2</text>
<text transform="translate(349.47,1383) scale(0.95,1)" font-family="Liberation Sans" font-weight="normal" font-size="20.8" fill="#1a1a1a">1</text>
<text transform="translate(360.87,1383) scale(0.95,1)" font-family="Liberation Sans" font-weight="normal" font-size="20.8" fill="#1a1a1a">D</text>
<text transform="translate(375.85,1383) scale(0.95,1)" font-family="Liberation Sans" font-weight="normal" font-size="20.8" fill="#1a1a1a">:</text>
<text transform="translate(390.85,1383) scale(0.95,1)" font-family="Liberation Sans" font-weight="normal" font-size="20.8" fill="#1a1a1a">X</text>
<text transform="translate(412.19,1383) scale(0.95,1)" font-family="Liberation Sans" font-weight="normal" font-size="20.8" fill="#1a1a1a">=</text>
<text transform="translate(433.12,1383) scale(0.95,1)" font-family="Liberation Sans" font-weight="normal" font-size="20.8" fill="#1a1a1a">L</text>
<text transform="translate(443.55,1383) scale(0.95,1)" font-family="Liberation Sans" font-weight="normal" font-size="20.8" fill="#1a1a1a">/</text>
<text transform="translate(450.13,1383) scale(0.95,1)" font-family="Liberation Sans" font-weight="normal" font-size="20.8" fill="#1a1a1a">4</text>
<text transform="translate(347.81,1409.1) scale(0.95,1)" font-family="Liberation Sans" font-weight="normal" font-size="20.8" fill="#1a1a1a">2</text>
<text transform="translate(360.57,1409.1) scale(0.95,1)" font-family="Liberation Sans" font-weight="normal" font-size="20.8" fill="#1a1a1a">D</text>
<text transform="translate(376.1,1409.1) scale(0.95,1)" font-family="Liberation Sans" font-weight="normal" font-size="20.8" fill="#1a1a1a">:</text>
<text transform="translate(390.85,1409.1) scale(0.95,1)" font-family="Liberation Sans" font-weight="normal" font-size="20.8" fill="#1a1a1a">X</text>
<text transform="translate(412.49,1409.1) scale(0.95,1)" font-family="Liberation Sans" font-weight="normal" font-size="20.8" fill="#1a1a1a">=</text>
<text transform="translate(432.77,1409.1) scale(0.95,1)" font-family="Liberation Sans" font-weight="normal" font-size="20.8" fill="#1a1a1a">L</text>
<text transform="translate(443.55,1409.1) scale(0.95,1)" font-family="Liberation Sans" font-weight="normal" font-size="20.8" fill="#1a1a1a">/</text>
<text transform="translate(450.41,1409.1) scale(0.95,1)" font-family="Liberation Sans" font-weight="normal" font-size="20.8" fill="#1a1a1a">2</text>
<text transform="translate(347.81,1433.7) scale(0.95,1)" font-family="Liberation Sans" font-weight="normal" font-size="20.8" fill="#1a1a1a">2</text>
<text transform="translate(360.57,1433.7) scale(0.95,1)" font-family="Liberation Sans" font-weight="normal" font-size="20.8" fill="#1a1a1a">D</text>
<text transform="translate(376.1,1433.7) scale(0.95,1)" font-family="Liberation Sans" font-weight="normal" font-size="20.8" fill="#1a1a1a">:</text>
<text transform="translate(390.85,1433.7) scale(0.95,1)" font-family="Liberation Sans" font-weight="normal" font-size="20.8" fill="#1a1a1a">X</text>
<text transform="translate(412.49,1433.7) scale(0.95,1)" font-family="Liberation Sans" font-weight="normal" font-size="20.8" fill="#1a1a1a">=</text>
<text transform="translate(432.77,1433.7) scale(0.95,1)" font-family="Liberation Sans" font-weight="normal" font-size="20.8" fill="#1a1a1a">L</text>
<text transform="translate(443.55,1433.7) scale(0.95,1)" font-family="Liberation Sans" font-weight="normal" font-size="20.8" fill="#1a1a1a">/</text>
<text transform="translate(450.13,1433.7) scale(0.95,1)" font-family="Liberation Sans" font-weight="normal" font-size="20.8" fill="#1a1a1a">4</text>
<text transform="translate(435.41,1278.2) scale(0.9,1)" font-family="Liberation Sans" font-weight="bold" font-size="54.8" fill="#2c2cdc">2</text>
<text transform="translate(469.23,1278.2) scale(0.9,1)" font-family="Liberation Sans" font-weight="bold" font-size="54.8" fill="#2c2cdc">D</text>
<text transform="translate(510.19,1278.2) scale(0.9,1)" font-family="Liberation Sans" font-weight="bold" font-size="54.8" fill="#2c2cdc">:</text>
<text transform="translate(540.33,1278.2) scale(0.9,1)" font-family="Liberation Sans" font-weight="bold" font-size="54.8" fill="#2c2cdc">1</text>
<text transform="translate(571.64,1278.2) scale(0.9,1)" font-family="Liberation Sans" font-weight="bold" font-size="54.8" fill="#2c2cdc">.</text>
<text transform="translate(588.92,1278.2) scale(0.9,1)" font-family="Liberation Sans" font-weight="bold" font-size="54.8" fill="#2c2cdc">5</text>
<text transform="translate(635.41,1278.2) scale(0.9,1)" font-family="Liberation Sans" font-weight="bold" font-size="54.8" fill="#2c2cdc">x</text>
<text transform="translate(679.63,1278.2) scale(0.9,1)" font-family="Liberation Sans" font-weight="bold" font-size="54.8" fill="#2c2cdc">1</text>
<text transform="translate(711.81,1278.2) scale(0.9,1)" font-family="Liberation Sans" font-weight="bold" font-size="54.8" fill="#2c2cdc">0</text>
<text transform="translate(789.91,1278.2) scale(0.9,1)" font-family="Liberation Sans" font-weight="bold" font-size="54.8" fill="#2c2cdc">s</text>
<text transform="translate(744.84,1252.5) scale(0.9,1)" font-family="Liberation Sans" font-weight="bold" font-size="32.5" fill="#2c2cdc">-</text>
<text transform="translate(752.07,1252.5) scale(0.9,1)" font-family="Liberation Sans" font-weight="bold" font-size="32.5" fill="#2c2cdc">5</text>
<text transform="translate(595.63,1734.8) scale(0.9,1)" font-family="Liberation Sans" font-weight="bold" font-size="54.8" fill="#c81414">1</text>
<text transform="translate(627.43,1734.8) scale(0.9,1)" font-family="Liberation Sans" font-weight="bold" font-size="54.8" fill="#c81414">D</text>
<text transform="translate(667.69,1734.8) scale(0.9,1)" font-family="Liberation Sans" font-weight="bold" font-size="54.8" fill="#c81414">:</text>
<text transform="translate(701.01,1734.8) scale(0.9,1)" font-family="Liberation Sans" font-weight="bold" font-size="54.8" fill="#c81414">2</text>
<text transform="translate(731.99,1734.8) scale(0.9,1)" font-family="Liberation Sans" font-weight="bold" font-size="54.8" fill="#c81414">.</text>
<text transform="translate(750.26,1734.8) scale(0.9,1)" font-family="Liberation Sans" font-weight="bold" font-size="54.8" fill="#c81414">2</text>
<text transform="translate(795.06,1734.8) scale(0.9,1)" font-family="Liberation Sans" font-weight="bold" font-size="54.8" fill="#c81414">x</text>
<text transform="translate(838.63,1734.8) scale(0.9,1)" font-family="Liberation Sans" font-weight="bold" font-size="54.8" fill="#c81414">1</text>
<text transform="translate(871.61,1734.8) scale(0.9,1)" font-family="Liberation Sans" font-weight="bold" font-size="54.8" fill="#c81414">0</text>
<text transform="translate(949.76,1734.8) scale(0.9,1)" font-family="Liberation Sans" font-weight="bold" font-size="54.8" fill="#c81414">s</text>
<text transform="translate(904.44,1709.7) scale(0.9,1)" font-family="Liberation Sans" font-weight="bold" font-size="32.5" fill="#c81414">-</text>
<text transform="translate(912.42,1709.7) scale(0.9,1)" font-family="Liberation Sans" font-weight="bold" font-size="32.5" fill="#c81414">5</text>
</svg>
</body></html>
